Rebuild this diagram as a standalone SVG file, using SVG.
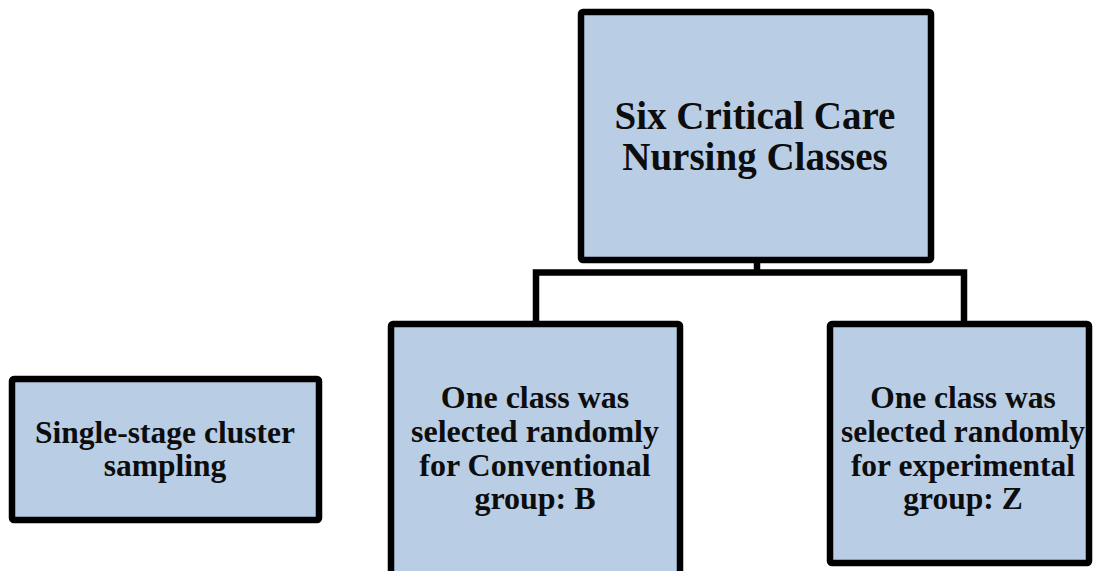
<svg xmlns="http://www.w3.org/2000/svg" width="1095" height="571" viewBox="0 0 1095 571">
  <style>
    .box { fill: #b9cde5; stroke: #000; stroke-width: 6.5; stroke-linejoin: round; }
    .wire { fill: none; stroke: #000; stroke-width: 6.5; stroke-linejoin: miter; }
    text { font-family: "Liberation Serif", "Times New Roman", serif; font-weight: bold; fill: #0d0d0d; text-anchor: middle; }
    .big { font-size: 39px; }
    .mid { font-size: 32px; }
    .side { font-size: 31.5px; }
  </style>
  <rect width="1095" height="571" fill="#fff"/>

  <!-- tree connectors -->
  <g id="connectors">
    <path class="wire" d="M757 260 V272.5"/>
    <path class="wire" d="M536 324 V272.5 H964 V324"/>
  </g>

  <g id="node-classes">
    <rect class="box" x="581" y="12" width="350" height="248" rx="2"/>
    <text class="big" x="755" y="129">Six Critical Care</text>
    <text class="big" x="755" y="170">Nursing Classes</text>
  </g>

  <g id="node-conventional">
    <rect class="box" x="391" y="324" width="289" height="262" rx="2"/>
    <text class="mid" x="535" y="408">One class was</text>
    <text class="mid" x="535" y="442">selected randomly</text>
    <text class="mid" x="535" y="476">for Conventional</text>
    <text class="mid" x="535" y="509">group: B</text>
  </g>

  <g id="node-experimental">
    <rect class="box" x="830" y="324" width="259" height="239" rx="2"/>
    <text class="side" x="963" y="408">One class was</text>
    <text class="side" x="963" y="442">selected randomly</text>
    <text class="side" x="963" y="476">for experimental</text>
    <text class="side" x="963" y="509">group: Z</text>
  </g>

  <g id="node-sampling">
    <rect class="box" x="12" y="379" width="307" height="141" rx="2"/>
    <text class="side" x="165" y="443">Single-stage cluster</text>
    <text class="side" x="165" y="476">sampling</text>
  </g>
</svg>
